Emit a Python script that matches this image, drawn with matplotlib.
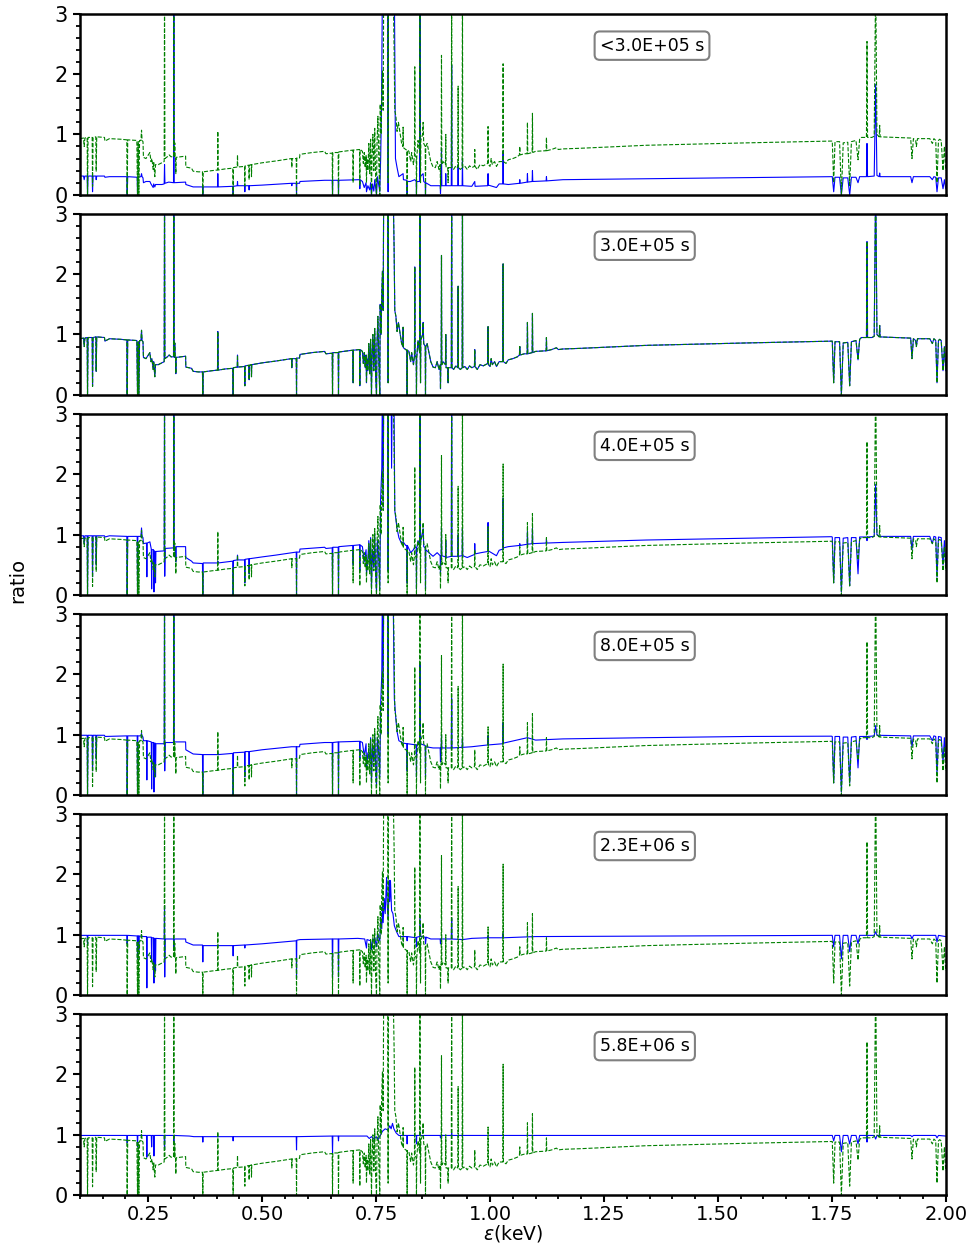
# plot.py
# Six stacked panels of the spectral ratio vs photon energy, one per epoch.
# Solid blue = ratio at that epoch, dashed green = reference ratio (same in every panel).

import matplotlib
matplotlib.use("Agg")
import matplotlib.pyplot as plt
from matplotlib.ticker import MultipleLocator

# --- data (energy keV, ratio); values above 3 are off-scale --------------------
GREEN = [
    (0.100, 0.93), (0.108, 0.94), (0.1095, 0.80), (0.111, 0.94),
    (0.116, 0.95), (0.1168, 0.00), (0.118, 0.95),
    (0.127, 0.95), (0.1278, 0.14), (0.129, 0.95),
    (0.135, 0.96), (0.1358, 0.39), (0.137, 0.96),
    (0.154, 0.95), (0.155, 0.89), (0.165, 0.93), (0.190, 0.92),
    (0.203, 0.91), (0.2038, 0.00), (0.205, 0.91),
    (0.225, 0.90), (0.2265, 0.00), (0.228, 0.88), (0.2294, 0.00), (0.231, 0.90),
    (0.234, 0.90), (0.2353, 1.07), (0.2365, 0.90),
    (0.2385, 0.88), (0.2395, 0.62), (0.245, 0.60), (0.250, 0.66), (0.2536, 0.70),
    (0.256, 0.55), (0.258, 0.60), (0.2609, 0.42), (0.262, 0.55), (0.2645, 0.30),
    (0.266, 0.50), (0.272, 0.50), (0.280, 0.53), (0.285, 0.55), (0.2858, 3.60),
    (0.2866, 0.60), (0.292, 0.63), (0.296, 0.66), (0.300, 0.63),
    (0.3055, 0.63), (0.3062, 3.60), (0.3069, 0.63),
    (0.3078, 0.62), (0.3082, 0.86), (0.3088, 0.62), (0.3100, 0.62), (0.3106, 0.35),
    (0.3112, 0.62), (0.332, 0.64), (0.3325, 0.46), (0.345, 0.44), (0.3486, 0.39),
    (0.360, 0.38), (0.369, 0.38), (0.3698, 0.00), (0.3706, 0.38),
    (0.390, 0.40), (0.4020, 0.41), (0.4027, 1.05), (0.4035, 0.41),
    (0.420, 0.43), (0.4355, 0.44), (0.4363, 0.00), (0.4371, 0.45),
    (0.4453, 0.46), (0.4459, 0.66), (0.4465, 0.46),
    (0.4613, 0.47), (0.4620, 0.15), (0.4627, 0.48),
    (0.4707, 0.49), (0.4714, 0.25), (0.4721, 0.49),
    (0.4760, 0.50), (0.4766, 0.30), (0.4772, 0.50),
    (0.500, 0.53), (0.530, 0.56), (0.5645, 0.60), (0.5651, 0.45), (0.5657, 0.60),
    (0.5748, 0.60), (0.5754, 0.00), (0.5760, 0.61),
    (0.5820, 0.61), (0.5830, 0.67), (0.610, 0.70), (0.637, 0.72), (0.640, 0.68),
    (0.6537, 0.69), (0.6544, 0.00), (0.6551, 0.70),
    (0.6668, 0.70), (0.6675, 0.00), (0.6682, 0.71),
    (0.6990, 0.74), (0.6996, 0.20), (0.7002, 0.74),
    (0.7137, 0.75), (0.7143, 0.15), (0.7149, 0.75),
    (0.720, 0.72), (0.722, 0.52), (0.724, 0.70), (0.726, 0.45), (0.728, 0.66),
    (0.7289, 0.20), (0.730, 0.60), (0.732, 0.40), (0.734, 0.85), (0.736, 0.35),
    (0.738, 0.92), (0.7399, 0.00), (0.741, 0.60), (0.743, 1.00), (0.745, 0.40),
    (0.747, 1.10), (0.749, 0.30), (0.7509, 0.00), (0.752, 0.85), (0.754, 1.30),
    (0.756, 0.55), (0.7581, 0.00), (0.759, 1.50), (0.761, 1.00), (0.7625, 1.70),
    (0.7640, 2.05), (0.7655, 1.40), (0.7668, 3.60), (0.7755, 3.60), (0.7764, 0.20),
    (0.7772, 3.60), (0.7870, 3.60), (0.7895, 2.45), (0.7910, 1.40), (0.7935, 1.30),
    (0.7960, 1.05), (0.7990, 1.20), (0.8030, 1.00), (0.8060, 0.85), (0.8088, 0.80),
    (0.8093, 1.12), (0.8100, 0.78), (0.815, 0.75), (0.8175, 0.74), (0.8181, 0.00),
    (0.8187, 0.74), (0.822, 0.72), (0.826, 0.55), (0.828, 0.70), (0.832, 0.50),
    (0.8342, 0.65), (0.8349, 2.12), (0.8356, 0.65), (0.8380, 0.62), (0.8386, 0.00),
    (0.8392, 0.62), (0.842, 0.90), (0.8455, 0.70), (0.8462, 3.60), (0.8468, 0.80),
    (0.8475, 0.20), (0.8482, 0.90), (0.8520, 1.00), (0.8532, 1.20), (0.8545, 0.85),
    (0.8578, 0.80), (0.8584, 0.00), (0.8590, 0.80), (0.862, 0.85), (0.866, 0.70),
    (0.870, 0.55), (0.875, 0.46), (0.880, 0.45), (0.884, 0.55), (0.888, 0.42),
    (0.8906, 0.50), (0.8913, 0.10), (0.8920, 0.50), (0.8928, 0.50), (0.8935, 2.31),
    (0.8942, 0.50), (0.897, 0.55), (0.9022, 0.50), (0.9029, 1.00), (0.9036, 0.45),
    (0.9072, 0.45), (0.9080, 0.20), (0.9088, 0.45), (0.9150, 0.45), (0.9158, 3.60),
    (0.9166, 0.45), (0.920, 0.42), (0.925, 0.48), (0.9293, 0.45), (0.9300, 1.80),
    (0.9307, 0.45), (0.935, 0.42), (0.9388, 0.45), (0.9395, 3.60), (0.9402, 0.45),
    (0.945, 0.47), (0.950, 0.42), (0.955, 0.48), (0.960, 0.45), (0.9658, 0.47),
    (0.9665, 0.75), (0.9672, 0.47), (0.972, 0.42), (0.978, 0.50), (0.985, 0.48),
    (0.9950, 0.52), (0.9957, 1.13), (0.9964, 0.50), (1.000, 0.47), (1.0025, 0.60),
    (1.005, 0.50), (1.010, 0.55), (1.0141, 0.47), (1.020, 0.55), (1.0280, 0.55),
    (1.0287, 2.17), (1.0294, 0.55), (1.035, 0.52), (1.040, 0.58), (1.050, 0.60),
    (1.060, 0.63), (1.0645, 0.66), (1.0653, 0.80), (1.0661, 0.66), (1.075, 0.68),
    (1.0814, 0.68), (1.0821, 1.20), (1.0828, 0.68), (1.0924, 0.70), (1.0931, 1.35),
    (1.0938, 0.70), (1.100, 0.72), (1.1231, 0.73), (1.1238, 0.95), (1.1245, 0.73),
    (1.135, 0.75), (1.1457, 0.78), (1.150, 0.75), (1.160, 0.76), (1.197, 0.77),
    (1.343, 0.82), (1.563, 0.86), (1.749, 0.89),
    (1.7510, 0.89), (1.7541, 0.20), (1.7570, 0.88), (1.7670, 0.88), (1.7710, 0.00),
    (1.7750, 0.86), (1.7850, 0.87), (1.7892, 0.15), (1.7930, 0.88), (1.8030, 0.90),
    (1.8075, 0.58), (1.8110, 0.92), (1.8150, 0.95), (1.8260, 0.95), (1.8272, 2.54),
    (1.8284, 0.95), (1.8380, 0.95), (1.8430, 0.97), (1.8462, 3.60), (1.8490, 1.00),
    (1.8540, 0.96), (1.8550, 1.15), (1.8560, 0.96),
    (1.9230, 0.94), (1.9259, 0.60), (1.9290, 0.93), (1.9340, 0.90), (1.9355, 0.80),
    (1.9380, 0.93), (1.9650, 0.93), (1.9706, 0.85), (1.9740, 0.93), (1.9780, 0.90),
    (1.9808, 0.20), (1.9840, 0.90), (1.9867, 0.92), (1.9900, 0.90), (1.9940, 0.40),
    (1.9970, 0.80), (2.000, 0.40),
]

BLUE_1 = [
    (0.100, 0.31), (0.108, 0.31), (0.1095, 0.25), (0.111, 0.31),
    (0.116, 0.31), (0.1168, 0.00), (0.118, 0.31), (0.127, 0.31), (0.1278, 0.05),
    (0.129, 0.31), (0.135, 0.31), (0.1358, 0.25), (0.137, 0.31), (0.154, 0.31),
    (0.155, 0.29), (0.165, 0.30), (0.203, 0.30), (0.2038, 0.00), (0.205, 0.30),
    (0.2258, 0.29), (0.2265, 0.00), (0.2272, 0.29), (0.234, 0.30), (0.2353, 0.35),
    (0.2365, 0.30), (0.2385, 0.28), (0.2395, 0.20), (0.245, 0.22), (0.2536, 0.22),
    (0.256, 0.18), (0.2609, 0.12), (0.262, 0.18), (0.2645, 0.13), (0.266, 0.17),
    (0.280, 0.17), (0.285, 0.18), (0.2858, 0.50), (0.2866, 0.19), (0.295, 0.21),
    (0.3055, 0.20), (0.3062, 3.60), (0.3069, 0.20), (0.332, 0.21), (0.3325, 0.17),
    (0.345, 0.14), (0.3486, 0.13), (0.369, 0.13), (0.3698, 0.00), (0.3706, 0.13),
    (0.4020, 0.13), (0.4027, 0.35), (0.4035, 0.13), (0.4355, 0.14), (0.4363, 0.00),
    (0.4371, 0.14), (0.4453, 0.15), (0.4459, 0.22), (0.4465, 0.15), (0.4613, 0.15),
    (0.4620, 0.05), (0.4627, 0.15), (0.4707, 0.15), (0.4714, 0.08), (0.4721, 0.15),
    (0.500, 0.16), (0.5645, 0.19), (0.5651, 0.15), (0.5657, 0.19), (0.5748, 0.19),
    (0.5754, 0.00), (0.5760, 0.19), (0.5820, 0.19), (0.5830, 0.22), (0.637, 0.24),
    (0.6537, 0.24), (0.6544, 0.00), (0.6551, 0.24), (0.6668, 0.24), (0.6675, 0.00),
    (0.6682, 0.24), (0.7137, 0.25), (0.7143, 0.10), (0.7149, 0.25),
    (0.720, 0.22), (0.724, 0.12), (0.728, 0.20), (0.7289, 0.05), (0.732, 0.15),
    (0.736, 0.08), (0.738, 0.20), (0.7399, 0.00), (0.742, 0.18), (0.745, 0.06),
    (0.747, 0.25), (0.7509, 0.00), (0.753, 0.30), (0.756, 0.15), (0.7581, 0.05),
    (0.760, 0.60), (0.762, 1.50), (0.764, 3.60), (0.7755, 3.60), (0.7764, 0.05),
    (0.7772, 3.60), (0.7900, 3.60), (0.7925, 0.60), (0.7960, 0.45), (0.8000, 0.30),
    (0.8093, 0.35), (0.8100, 0.25), (0.8175, 0.24), (0.8181, 0.00), (0.8187, 0.22),
    (0.8250, 0.22), (0.8349, 0.25), (0.8380, 0.22), (0.8386, 0.00), (0.8392, 0.22),
    (0.8455, 0.22), (0.8462, 3.60), (0.8470, 0.30), (0.8532, 0.35), (0.8545, 0.22),
    (0.8578, 0.20), (0.8584, 0.00), (0.8590, 0.20), (0.870, 0.15), (0.8906, 0.15),
    (0.8913, 0.02), (0.8920, 0.15), (0.8928, 0.15), (0.8935, 0.77), (0.8942, 0.15),
    (0.9022, 0.15), (0.9029, 0.35), (0.9036, 0.15), (0.9150, 0.15), (0.9158, 2.15),
    (0.9166, 0.15), (0.9293, 0.15), (0.9300, 0.50), (0.9307, 0.15), (0.9388, 0.15),
    (0.9395, 0.60), (0.9402, 0.15), (0.960, 0.14), (0.9665, 0.22), (0.9672, 0.14),
    (0.9950, 0.15), (0.9957, 0.35), (0.9964, 0.16), (1.0141, 0.12), (1.020, 0.18),
    (1.0280, 0.18), (1.0287, 0.72), (1.0294, 0.18), (1.040, 0.17), (1.0645, 0.19),
    (1.0653, 0.25), (1.0661, 0.19), (1.0814, 0.21), (1.0821, 0.35), (1.0828, 0.21),
    (1.0924, 0.22), (1.0931, 0.40), (1.0938, 0.22), (1.1231, 0.23), (1.1238, 0.30),
    (1.1245, 0.23), (1.160, 0.25), (1.749, 0.30),
    (1.7510, 0.30), (1.7541, 0.05), (1.7570, 0.29), (1.7670, 0.29), (1.7710, 0.00),
    (1.7750, 0.28), (1.7850, 0.28), (1.7892, 0.00), (1.7930, 0.29), (1.8030, 0.29),
    (1.8075, 0.20), (1.8110, 0.30), (1.8260, 0.30), (1.8272, 0.85), (1.8284, 0.30),
    (1.8430, 0.31), (1.8462, 1.83), (1.8490, 0.32), (1.8540, 0.30), (1.8550, 0.36),
    (1.8560, 0.30), (1.9230, 0.30), (1.9259, 0.20), (1.9290, 0.30), (1.9650, 0.30),
    (1.9706, 0.25), (1.9740, 0.30), (1.9780, 0.29), (1.9808, 0.05), (1.9840, 0.28),
    (1.9900, 0.28), (1.9940, 0.10), (1.9970, 0.25), (2.000, 0.10),
]

# at 3.0E+05 s the two curves coincide
BLUE_2 = GREEN

BLUE_3 = [
    (0.100, 0.98), (0.108, 0.98), (0.1095, 0.85), (0.111, 0.98),
    (0.116, 0.98), (0.1168, 0.00), (0.118, 0.98), (0.127, 0.98), (0.1278, 0.30),
    (0.129, 0.98), (0.135, 0.98), (0.1358, 0.50), (0.137, 0.98), (0.154, 0.98),
    (0.155, 0.96), (0.165, 0.98), (0.203, 0.97), (0.2038, 0.00), (0.205, 0.97),
    (0.2258, 0.97), (0.2265, 0.00), (0.2272, 0.97), (0.234, 0.97), (0.2353, 1.11),
    (0.2365, 0.97), (0.2385, 0.95), (0.2395, 0.85), (0.2462, 0.86), (0.2470, 0.30),
    (0.2478, 0.86), (0.2536, 0.88), (0.2567, 0.76), (0.2575, 0.10), (0.2583, 0.75),
    (0.2617, 0.75), (0.2625, 0.05), (0.2633, 0.73), (0.2652, 0.72), (0.2660, 0.20),
    (0.2668, 0.72), (0.285, 0.73), (0.2858, 3.60), (0.2862, 0.31), (0.2870, 0.77),
    (0.3055, 0.78), (0.3062, 3.60), (0.3069, 0.79), (0.3100, 0.79), (0.3106, 0.55),
    (0.3112, 0.80), (0.332, 0.80), (0.3325, 0.62), (0.345, 0.56), (0.3486, 0.53),
    (0.369, 0.52), (0.3698, 0.00), (0.3706, 0.53), (0.4020, 0.53), (0.4027, 0.56),
    (0.4035, 0.53), (0.4355, 0.56), (0.4363, 0.00), (0.4371, 0.57), (0.4453, 0.58),
    (0.4459, 0.66), (0.4465, 0.58), (0.4613, 0.58), (0.4620, 0.20), (0.4627, 0.59),
    (0.4707, 0.60), (0.4714, 0.35), (0.4721, 0.60), (0.500, 0.63), (0.530, 0.66),
    (0.5648, 0.70), (0.5748, 0.71), (0.5754, 0.00), (0.5760, 0.71), (0.5820, 0.71),
    (0.5830, 0.76), (0.637, 0.79), (0.640, 0.77), (0.6537, 0.78), (0.6544, 0.00),
    (0.6551, 0.79), (0.6668, 0.79), (0.6675, 0.00), (0.6682, 0.80), (0.6990, 0.82),
    (0.6996, 0.50), (0.7002, 0.82), (0.7137, 0.83), (0.7143, 0.40), (0.7149, 0.83),
    (0.720, 0.80), (0.724, 0.55), (0.728, 0.75), (0.7289, 0.35), (0.732, 0.60),
    (0.734, 0.90), (0.736, 0.50), (0.738, 0.95), (0.7399, 0.10), (0.742, 0.75),
    (0.745, 0.45), (0.747, 1.00), (0.749, 0.40), (0.7509, 0.05), (0.753, 0.90),
    (0.756, 0.60), (0.7581, 0.10), (0.760, 1.60), (0.7625, 2.10), (0.7640, 3.60),
    (0.7655, 1.45), (0.7668, 3.60), (0.7755, 3.60), (0.7764, 0.40), (0.7772, 3.60),
    (0.7830, 3.60), (0.7840, 2.10), (0.7855, 3.60), (0.7890, 3.60), (0.7910, 1.40),
    (0.7935, 1.25), (0.7960, 1.10), (0.8000, 0.95), (0.8060, 0.85), (0.8093, 0.88),
    (0.815, 0.82), (0.8175, 0.82), (0.8181, 0.20), (0.8187, 0.82), (0.826, 0.70),
    (0.832, 0.75), (0.8349, 0.80), (0.8380, 0.78), (0.8386, 0.10), (0.8392, 0.78),
    (0.842, 0.90), (0.8455, 0.80), (0.8462, 3.60), (0.8470, 0.85), (0.8532, 1.10),
    (0.8545, 0.80), (0.8578, 0.78), (0.8584, 0.10), (0.8590, 0.75), (0.866, 0.70),
    (0.875, 0.64), (0.884, 0.70), (0.8906, 0.65), (0.8913, 0.35), (0.8920, 0.65),
    (0.8928, 0.65), (0.8935, 1.11), (0.8942, 0.65), (0.9022, 0.63), (0.9029, 0.90),
    (0.9036, 0.62), (0.9150, 0.64), (0.9158, 3.60), (0.9166, 0.64), (0.9293, 0.64),
    (0.9300, 1.00), (0.9307, 0.64), (0.9388, 0.65), (0.9395, 1.10), (0.9402, 0.65),
    (0.950, 0.62), (0.9658, 0.67), (0.9665, 0.85), (0.9672, 0.68), (0.980, 0.70),
    (0.9950, 0.72), (0.9957, 1.20), (0.9964, 0.73), (1.0141, 0.65), (1.020, 0.74),
    (1.0280, 0.76), (1.0287, 1.60), (1.0294, 0.78), (1.040, 0.80), (1.0645, 0.82),
    (1.0653, 0.85), (1.0661, 0.82), (1.0814, 0.84), (1.0821, 1.05), (1.0828, 0.84),
    (1.0924, 0.85), (1.0931, 1.10), (1.0938, 0.85), (1.1231, 0.86), (1.1238, 0.92),
    (1.1245, 0.86), (1.160, 0.87), (1.343, 0.91), (1.563, 0.94), (1.749, 0.965),
    (1.7510, 0.96), (1.7541, 0.20), (1.7570, 0.95), (1.7670, 0.95), (1.7710, 0.05),
    (1.7750, 0.94), (1.7850, 0.95), (1.7892, 0.15), (1.7930, 0.95), (1.8030, 0.95),
    (1.8075, 0.35), (1.8110, 0.96), (1.8260, 0.96), (1.8272, 0.90), (1.8284, 0.96),
    (1.8430, 0.97), (1.8462, 1.83), (1.8490, 1.00), (1.8560, 0.97), (1.9230, 0.97),
    (1.9259, 0.75), (1.9290, 0.97), (1.9650, 0.97), (1.9706, 0.85), (1.9740, 0.97),
    (1.9780, 0.96), (1.9808, 0.30), (1.9840, 0.96), (1.9900, 0.95), (1.9940, 0.50),
    (1.9970, 0.90), (2.000, 0.50),
]

BLUE_4 = [
    (0.100, 0.99), (0.116, 0.99), (0.1168, 0.00), (0.118, 0.99), (0.127, 0.99),
    (0.1278, 0.40), (0.129, 0.99), (0.135, 0.99), (0.1358, 0.60), (0.137, 0.99),
    (0.154, 0.99), (0.155, 0.97), (0.203, 0.98), (0.2038, 0.00), (0.205, 0.98),
    (0.2258, 0.98), (0.2265, 0.00), (0.2272, 0.98), (0.234, 0.98), (0.2353, 1.02),
    (0.2365, 0.98), (0.2385, 0.96), (0.2395, 0.90), (0.2462, 0.90), (0.2470, 0.25),
    (0.2478, 0.90), (0.2567, 0.88), (0.2575, 0.10), (0.2583, 0.87), (0.2617, 0.87),
    (0.2625, 0.05), (0.2633, 0.86), (0.2652, 0.86), (0.2660, 0.30), (0.2668, 0.85),
    (0.285, 0.85), (0.2858, 3.60), (0.2862, 0.40), (0.2870, 0.87), (0.3055, 0.87),
    (0.3062, 3.60), (0.3069, 0.88), (0.332, 0.88), (0.3325, 0.75), (0.3486, 0.68),
    (0.369, 0.67), (0.3698, 0.00), (0.3706, 0.67), (0.4020, 0.67), (0.4027, 0.70),
    (0.4035, 0.67), (0.4355, 0.69), (0.4363, 0.00), (0.4371, 0.70), (0.4613, 0.71),
    (0.4620, 0.30), (0.4627, 0.72), (0.4707, 0.72), (0.4714, 0.50), (0.4721, 0.72),
    (0.500, 0.75), (0.5648, 0.80), (0.5748, 0.80), (0.5754, 0.00), (0.5760, 0.80),
    (0.5820, 0.80), (0.5830, 0.84), (0.637, 0.87), (0.6537, 0.87), (0.6544, 0.00),
    (0.6551, 0.87), (0.6668, 0.88), (0.6675, 0.00), (0.6682, 0.88), (0.7137, 0.89),
    (0.7143, 0.60), (0.7149, 0.89), (0.720, 0.87), (0.724, 0.65), (0.728, 0.85),
    (0.7289, 0.45), (0.732, 0.70), (0.736, 0.60), (0.738, 0.95), (0.7399, 0.20),
    (0.742, 0.80), (0.745, 0.55), (0.747, 1.00), (0.749, 0.50), (0.7509, 0.15),
    (0.753, 0.95), (0.756, 0.70), (0.7581, 0.30), (0.760, 1.50), (0.7625, 2.00),
    (0.7640, 3.60), (0.7655, 1.80), (0.7668, 3.60), (0.7755, 3.60), (0.7764, 1.00),
    (0.7772, 3.60), (0.7870, 3.60), (0.7900, 1.60), (0.7935, 1.25), (0.7960, 1.05),
    (0.8000, 0.90), (0.8093, 0.86), (0.8175, 0.85), (0.8181, 0.40), (0.8187, 0.85),
    (0.8380, 0.83), (0.8386, 0.30), (0.8392, 0.83), (0.8455, 0.84), (0.8462, 2.20),
    (0.8470, 0.85), (0.8578, 0.82), (0.8584, 0.30), (0.8590, 0.80), (0.875, 0.78),
    (0.8906, 0.78), (0.8913, 0.55), (0.8920, 0.78), (0.8928, 0.78), (0.8935, 1.00),
    (0.8942, 0.78), (0.9150, 0.78), (0.9158, 1.60), (0.9166, 0.78), (0.9388, 0.79),
    (0.9395, 0.95), (0.9402, 0.79), (0.960, 0.80), (0.9950, 0.83), (0.9957, 0.98),
    (0.9964, 0.83), (1.0280, 0.85), (1.0287, 1.20), (1.0294, 0.86), (1.0821, 0.95),
    (1.100, 0.91), (1.160, 0.93), (1.343, 0.95), (1.563, 0.97), (1.749, 0.975),
    (1.7510, 0.97), (1.7541, 0.20), (1.7570, 0.97), (1.7670, 0.97), (1.7710, 0.05),
    (1.7750, 0.96), (1.7850, 0.96), (1.7892, 0.20), (1.7930, 0.96), (1.8030, 0.97),
    (1.8075, 0.45), (1.8110, 0.97), (1.8260, 0.97), (1.8272, 0.92), (1.8284, 0.97),
    (1.8430, 0.98), (1.8462, 1.15), (1.8490, 0.99), (1.9230, 0.98), (1.9259, 0.80),
    (1.9290, 0.98), (1.9650, 0.98), (1.9706, 0.90), (1.9740, 0.98), (1.9780, 0.97),
    (1.9808, 0.35), (1.9840, 0.97), (1.9900, 0.96), (1.9940, 0.55), (1.9970, 0.95),
    (2.000, 0.60),
]

BLUE_5 = [
    (0.100, 0.99), (0.1160, 0.99), (0.1168, 0.85), (0.1176, 0.99), (0.2030, 0.99),
    (0.2038, 0.85), (0.2046, 0.99), (0.2258, 0.98), (0.2265, 0.60), (0.2272, 0.98),
    (0.2287, 0.98), (0.2294, 0.75), (0.2301, 0.98), (0.2400, 0.97), (0.2462, 0.97),
    (0.2470, 0.12), (0.2478, 0.96), (0.2567, 0.96), (0.2575, 0.55), (0.2583, 0.95),
    (0.2617, 0.95), (0.2625, 0.20), (0.2633, 0.94), (0.2652, 0.94), (0.2660, 0.40),
    (0.2668, 0.94), (0.2850, 0.93), (0.2858, 1.48), (0.2862, 0.30), (0.2870, 0.93),
    (0.3055, 0.93), (0.3062, 0.80), (0.3069, 0.93), (0.332, 0.93), (0.3325, 0.88),
    (0.3486, 0.83), (0.3690, 0.83), (0.3698, 0.55), (0.3706, 0.82), (0.4355, 0.82),
    (0.4363, 0.65), (0.4371, 0.82), (0.4613, 0.83), (0.4620, 0.78), (0.4627, 0.83),
    (0.500, 0.85), (0.5748, 0.90), (0.5754, 0.28), (0.5760, 0.91), (0.5830, 0.92),
    (0.6537, 0.93), (0.6544, 0.30), (0.6551, 0.93), (0.6668, 0.93), (0.6675, 0.30),
    (0.6682, 0.93), (0.7100, 0.94), (0.7250, 0.93), (0.7289, 0.78), (0.7300, 0.92),
    (0.738, 0.90), (0.7399, 0.75), (0.742, 0.90), (0.747, 0.95), (0.7509, 0.80),
    (0.753, 1.00), (0.7581, 0.90), (0.760, 1.25), (0.7625, 1.10), (0.7640, 1.50),
    (0.7655, 1.20), (0.7680, 1.60), (0.7700, 1.35), (0.7730, 1.95), (0.7745, 1.50),
    (0.7764, 1.25), (0.7790, 1.90), (0.7800, 1.55), (0.7815, 1.90), (0.7840, 1.40),
    (0.7870, 1.35), (0.7900, 1.15), (0.7950, 1.05), (0.8000, 0.97), (0.8175, 0.97),
    (0.8181, 0.90), (0.8187, 0.97), (0.8380, 0.95), (0.8386, 0.80), (0.8392, 0.96),
    (0.8455, 0.97), (0.8462, 1.31), (0.8480, 0.97), (0.8578, 0.96), (0.8584, 0.85),
    (0.8600, 0.96), (0.870, 0.93), (0.8906, 0.93), (0.8913, 0.85), (0.8920, 0.93),
    (0.9150, 0.93), (0.9158, 1.27), (0.9166, 0.93), (0.940, 0.92), (0.960, 0.94),
    (0.9950, 0.95), (0.9957, 0.98), (0.9964, 0.95), (1.0280, 0.95), (1.0287, 1.02),
    (1.0294, 0.95), (1.100, 0.97), (1.749, 0.99),
    (1.7510, 0.99), (1.7541, 0.80), (1.7570, 0.99), (1.7670, 0.99), (1.7710, 0.60),
    (1.7750, 0.99), (1.7850, 0.99), (1.7892, 0.72), (1.7930, 0.99), (1.8030, 0.99),
    (1.8075, 0.85), (1.8110, 0.99), (1.8430, 0.99), (1.8462, 1.05), (1.8490, 0.99),
    (1.9230, 0.99), (1.9259, 0.93), (1.9290, 0.99), (1.9780, 0.99), (1.9808, 0.88),
    (1.9840, 0.99), (2.000, 0.97),
]

BLUE_6 = [
    (0.100, 0.99), (0.2030, 0.99), (0.2038, 0.87), (0.2046, 0.99), (0.2258, 0.99),
    (0.2265, 0.80), (0.2272, 0.99), (0.2462, 0.99), (0.2470, 0.63), (0.2478, 0.99),
    (0.2567, 0.99), (0.2575, 0.80), (0.2583, 0.99), (0.2617, 0.99), (0.2625, 0.65),
    (0.2633, 0.99), (0.2850, 0.99), (0.2858, 0.75), (0.2866, 0.99), (0.3055, 0.99),
    (0.3062, 0.87), (0.3069, 0.99), (0.3400, 0.98), (0.3500, 0.97), (0.3690, 0.97),
    (0.3698, 0.88), (0.3706, 0.97), (0.4355, 0.97), (0.4363, 0.90), (0.4371, 0.97),
    (0.5748, 0.97), (0.5754, 0.75), (0.5760, 0.97), (0.6537, 0.98), (0.6544, 0.70),
    (0.6551, 0.98), (0.6668, 0.98), (0.6675, 0.90), (0.6682, 0.98), (0.7300, 0.98),
    (0.7350, 0.94), (0.740, 0.97), (0.745, 0.93), (0.750, 0.97), (0.7540, 0.92),
    (0.7600, 1.00), (0.7640, 1.06), (0.7700, 1.10), (0.7760, 1.08), (0.7800, 1.15),
    (0.7830, 1.10), (0.7860, 1.19), (0.7890, 1.10), (0.7940, 1.03), (0.8000, 0.99),
    (0.8175, 0.99), (0.8181, 0.85), (0.8187, 0.99), (0.8380, 0.99), (0.8386, 0.85),
    (0.8392, 0.99), (0.8455, 0.99), (0.8462, 1.05), (0.8470, 0.99), (0.8906, 0.99),
    (0.8913, 0.95), (0.8920, 0.99), (0.9150, 0.99), (0.9158, 1.03), (0.9166, 0.99),
    (1.749, 0.99), (1.7510, 0.99), (1.7541, 0.90), (1.7570, 0.99), (1.7670, 0.99),
    (1.7710, 0.72), (1.7750, 0.99), (1.7850, 0.99), (1.7892, 0.85), (1.7930, 0.99),
    (1.8030, 0.99), (1.8075, 0.85), (1.8110, 0.99), (1.8260, 0.99), (1.8272, 0.88),
    (1.8284, 0.99), (1.8430, 0.99), (1.8462, 0.93), (1.8490, 0.99), (1.9230, 0.99),
    (1.9259, 0.97), (1.9290, 0.99), (1.9780, 0.99), (1.9808, 0.95), (1.9840, 0.99),
    (2.000, 0.98),
]

BLUE_SERIES = [BLUE_1, BLUE_2, BLUE_3, BLUE_4, BLUE_5, BLUE_6]
EPOCH_LABELS = ["<3.0E+05 s", "3.0E+05 s", "4.0E+05 s",
                "8.0E+05 s", "2.3E+06 s", "5.8E+06 s"]

# --- figure ---------------------------------------------------------------------
fig, axes = plt.subplots(6, 1, sharex=True, figsize=(9.74, 12.45), dpi=100)
fig.subplots_adjust(left=0.082, right=0.971, top=0.989, bottom=0.040, hspace=0.105)

gx, gy = zip(*GREEN)
for ax, blue, label in zip(axes, BLUE_SERIES, EPOCH_LABELS):
    bx, by = zip(*blue)
    ax.plot(bx, by, color="blue", lw=0.8)
    ax.plot(gx, gy, color="green", lw=0.8, ls="--")

    ax.set_xlim(0.1, 2.0)
    ax.set_ylim(0, 3)
    ax.set_yticks([0, 1, 2, 3])
    ax.yaxis.set_minor_locator(MultipleLocator(0.2))
    for side in ax.spines.values():
        side.set_linewidth(1.8)
    ax.tick_params(axis="y", which="major", direction="out", length=5, width=1.5,
                   labelsize=15)
    ax.tick_params(axis="y", which="minor", direction="out", length=3, width=1.3)
    ax.tick_params(axis="x", which="both", bottom=False, labelbottom=False)

    ax.text(0.6005, 0.8235, label, transform=ax.transAxes, ha="left", va="center",
            fontsize=12.5,
            bbox=dict(boxstyle="round,pad=0.3", fc="white", ec="gray", lw=1.5))

bottom = axes[-1]
bottom.xaxis.set_major_locator(MultipleLocator(0.25))
bottom.xaxis.set_minor_locator(MultipleLocator(0.05))
bottom.tick_params(axis="x", which="major", bottom=True, labelbottom=True,
                   direction="out", length=5, width=1.5, labelsize=14, pad=2)
bottom.tick_params(axis="x", which="minor", bottom=True, direction="out",
                   length=3, width=1.3)
bottom.set_xlabel(r"$\varepsilon$(keV)", fontsize=13.5, labelpad=-1)

fig.text(0.018, 0.534, "ratio", rotation=90, ha="center", va="center", fontsize=14)

fig.savefig("out.png", dpi=100)
